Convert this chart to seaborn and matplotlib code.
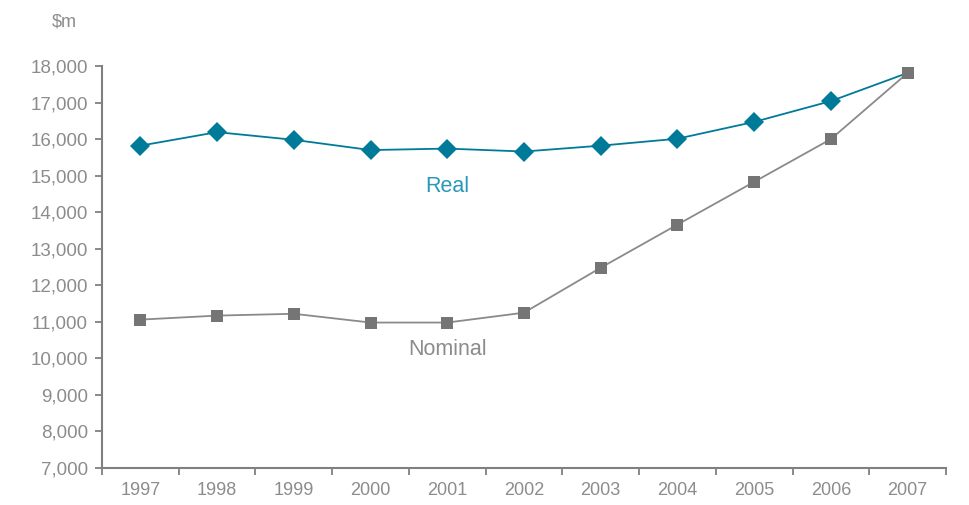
import numpy as np
import pandas as pd
import matplotlib
matplotlib.use('Agg')
import matplotlib.pyplot as plt
import seaborn as sns

years = ['1997', '1998', '1999', '2000', '2001', '2002', '2003', '2004', '2005', '2006', '2007']
real = [15820, 16190, 15980, 15700, 15740, 15660, 15820, 16010, 16470, 17040, 17810]
nominal = [11060, 11170, 11220, 10980, 10980, 11250, 12480, 13660, 14830, 16000, 17810]

sns.set_style('white')
plt.rcParams['font.family'] = ['Liberation Sans', 'DejaVu Sans']

txt = '#8c8c8c'
teal = '#007a99'
grey = '#757575'

df = pd.DataFrame({
    'x': list(range(len(years))) * 2,
    'value': real + nominal,
    'series': ['Real'] * len(years) + ['Nominal'] * len(years),
})

fig = plt.figure(figsize=(9.69, 5.05), dpi=100)
ax = fig.add_axes([102 / 969, 37 / 505, 844 / 969, 402 / 505])

sns.lineplot(data=df, x='x', y='value', hue='series', style='series',
             hue_order=['Real', 'Nominal'], style_order=['Real', 'Nominal'],
             palette={'Real': teal, 'Nominal': '#8a8a8a'},
             markers={'Real': 'D', 'Nominal': 's'}, dashes=False,
             markersize=9, linewidth=1.3, markeredgewidth=0,
             legend=False, ax=ax)

# nominal markers a bit darker than its line, drawn on top of the real line
for line in ax.get_lines():
    if line.get_color() == '#8a8a8a':
        line.set_markerfacecolor(grey)
        line.set_markersize(9)
        line.set_zorder(4)
    else:
        line.set_markersize(10)
        line.set_markevery(list(range(len(years) - 1)))  # last point hidden under the square
        line.set_zorder(3)

ax.set_xlim(-0.5, len(years) - 0.5)
ax.set_ylim(7000, 18000)
ax.set_yticks(np.arange(7000, 18001, 1000))
ax.set_yticklabels([f'{v:,}' for v in range(7000, 18001, 1000)])
ax.set_xticks(range(len(years)))
ax.set_xticklabels(years)
ax.set_xticks(np.arange(-0.5, len(years), 1), minor=True)
ax.tick_params(axis='x', which='major', bottom=True, length=0, pad=10, labelsize=13, labelcolor=txt)
ax.tick_params(axis='x', which='minor', bottom=True, length=5, width=1.3, color='#808080', direction='out')
ax.tick_params(axis='y', left=True, length=5, width=1.3, color='#808080', direction='out',
               pad=5, labelsize=13.5, labelcolor=txt)
ax.set_xlabel('')
ax.set_ylabel('')

for s in ['top', 'right']:
    ax.spines[s].set_visible(False)
for s in ['left', 'bottom']:
    ax.spines[s].set_color('#808080')
    ax.spines[s].set_linewidth(1.5)

ax.text(4.0, 14700, 'Real', color='#2a98b8', fontsize=15.5, ha='center', va='center')
ax.text(4.0, 10230, 'Nominal', color=txt, fontsize=15.5, ha='center', va='center')
fig.text(64 / 969, 1 - 22 / 505, '$m', color=txt, fontsize=13, ha='center', va='center')

plt.savefig('out.png', dpi=100)
plt.close('all')
